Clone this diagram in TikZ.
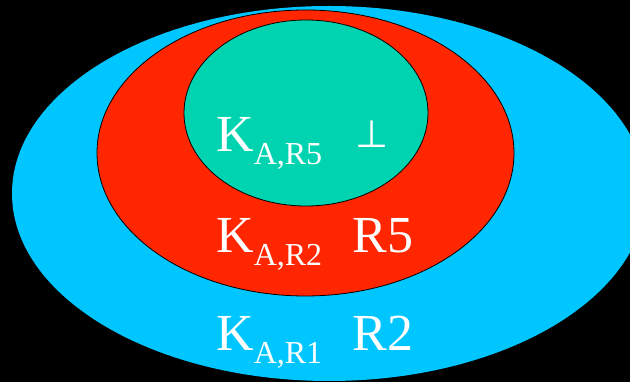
\documentclass[tikz,border=0pt]{standalone}
\usepackage{fontspec}
\setmainfont{Liberation Serif}
\newfontfamily\symbolfont{DejaVu Sans}
\usepackage{xcolor}
\usepackage{tikz}
\usetikzlibrary{positioning}

\definecolor{ringcyan}{RGB}{0,198,255}
\definecolor{ringred}{RGB}{255,38,0}
\definecolor{ringgreen}{RGB}{0,211,176}

% key with a lowered subscript, set as text
\newcommand{\keyname}[1]{K\raisebox{-13pt}{\fontsize{32}{34}\selectfont A,#1}}

\begin{document}
\begin{tikzpicture}[x=1pt, y=-1pt, node distance=28pt,
    every node/.style={text=white, inner sep=0pt, font=\fontsize{52}{60}\selectfont},
    keylabel/.style={anchor=base west},
    ring/.style={draw=black, line width=0.8pt}]
    \fill[black] (0,0) rectangle (630,382);
    \useasboundingbox (0,0) rectangle (630,382);
    \fill[ringcyan] (329,193.5) ellipse [x radius=317pt, y radius=187.5pt];
    \filldraw[ring, fill=ringred] (305.5,153) ellipse [x radius=208.5pt, y radius=143pt];
    \filldraw[ring, fill=ringgreen] (306,113) ellipse [x radius=122pt, y radius=93pt];
    \node (kfive) [keylabel] at (216,152) {\keyname{R5}};
    \node (bottom) [right=33pt of kfive.base east, anchor=base west] {\raisebox{4pt}{\symbolfont\fontsize{38}{40}\selectfont ⊥}};
    \node (ktwo) [keylabel] at (216,253) {\keyname{R2}};
    \node (rfive) [right=30pt of ktwo.base east, anchor=base west] {R5};
    \node (kone) [keylabel] at (216,351) {\keyname{R1}};
    \node (rtwo) [right=30pt of kone.base east, anchor=base west] {R2};
  \end{tikzpicture}
\end{document}
